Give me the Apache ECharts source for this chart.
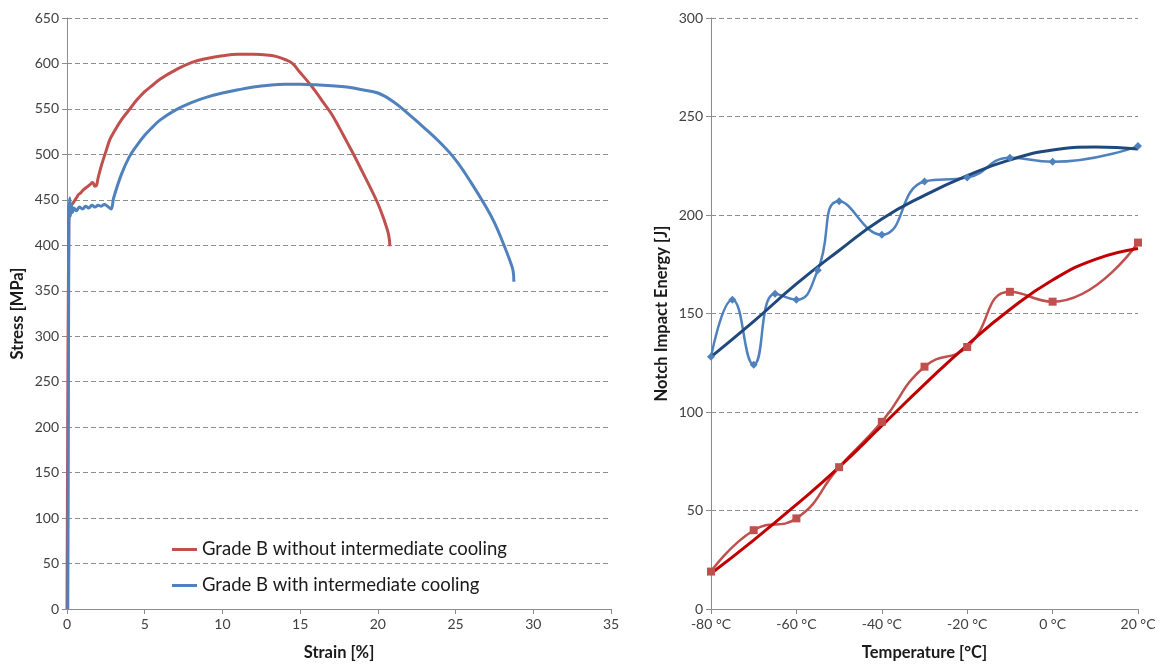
<!DOCTYPE html>
<html>
<head>
<meta charset="utf-8">
<script src="https://cdn.jsdelivr.net/npm/echarts@6/dist/echarts.min.js"></script>
<style>
html,body{margin:0;padding:0;background:#fff;}
#c{width:1161px;height:666px;}
</style>
</head>
<body>
<div id="c"></div>
<script>
// ---- Left chart: stress-strain ----
const strainRed = [0, 0.12, 0.2, 0.3, 0.45, 0.6, 0.75, 0.9, 1.05, 1.2, 1.35, 1.5, 1.62, 1.7, 1.8, 1.9, 2.0, 2.2, 2.5, 2.75, 3.0, 3.5, 4.0, 4.5, 5.0, 5.5, 6.0, 7.0, 8.0, 9.0, 10.0, 11.0, 12.0, 13.0, 13.5, 14.0, 14.5, 15.0, 15.5, 16.0, 16.5, 17.0, 17.5, 18.0, 18.5, 19.0, 19.5, 20.0, 20.4, 20.66, 20.75, 20.77];
const stressRed = [0, 440, 446, 445, 448, 452, 456, 458, 461, 463, 465, 467, 469, 468, 465, 466, 474, 487, 503, 516, 524, 538, 549, 560, 569, 576, 583, 593, 601, 605.5, 608.5, 610, 610, 609, 607.5, 604.5, 600, 590, 580, 569, 557, 545, 530, 514, 498, 481, 464, 446, 428, 414, 405, 399];
const strainBlue = [0.05, 0.08, 0.12, 0.17, 0.22, 0.28, 0.35, 0.45, 0.6, 0.8, 1.0, 1.2, 1.4, 1.6, 1.8, 2.0, 2.2, 2.4, 2.6, 2.75, 2.85, 3.0, 3.5, 4.0, 4.5, 5.0, 5.5, 6.0, 7.0, 8.0, 9.0, 10.0, 11.0, 12.0, 13.0, 14.0, 15.0, 16.0, 17.0, 18.0, 19.0, 20.0, 21.0, 22.0, 23.0, 24.0, 25.0, 26.0, 27.0, 27.5, 28.0, 28.5, 28.7, 28.75];
const stressBlue = [0, 150, 420, 452, 432, 445, 436, 441, 438, 442, 440, 443, 441, 444, 442, 444, 443, 445, 443, 441, 440, 452, 478, 497, 510, 521, 530, 538, 549, 557, 563, 567.5, 571, 574, 576, 577, 577, 576.5, 575.5, 574, 571, 567.5, 558, 544, 529, 513, 494, 469, 441, 425, 405, 383, 372, 360];
const nameRed = 'Grade B without intermediate cooling';
const nameBlue = 'Grade B with intermediate cooling';

// ---- Right chart: notch impact energy ----
const tempsBlue = [-80, -75, -70, -65, -60, -55, -50, -40, -30, -20, -10, 0, 20];
const energyBlue = [128, 157, 124, 160, 157, 172, 207, 190, 217, 219, 229, 227, 235];
const tempsRed = [-80, -70, -60, -50, -40, -30, -20, -10, 0, 20];
const energyRed = [19, 40, 46, 72, 95, 123, 133, 161, 156, 186];
const trendTemps = [-80, -70, -60, -50, -40, -30, -20, -10, 0, 10, 20];
const trendBlue = [128, 146, 165, 182, 198, 210, 220, 228, 233, 234.5, 233.5];
const trendRed = [18, 35, 53, 72, 93, 114, 134, 152, 167, 177.5, 183];

const zip = (a, b) => a.map((v, i) => [v, b[i]]);
const FONT = 'Lato, "Open Sans", sans-serif';
const axisLineStyle = { lineStyle: { color: '#8c8c8c', width: 1 } };
const tickStyle = { show: true, inside: false, length: 5, lineStyle: { color: '#8c8c8c' } };
const labelStyle = { color: '#404040', fontSize: 14, fontFamily: FONT };
const split = { show: true, lineStyle: { type: [5, 3], color: '#8c8c8c', width: 1 } };
const nameStyle = { color: '#1a1a1a', fontSize: 16.5, fontWeight: 'bold', fontFamily: FONT };

const chart = echarts.init(document.getElementById('c'), null, { renderer: 'canvas' });
chart.setOption({
  backgroundColor: '#ffffff',
  animation: false,
  grid: [
    { left: 67, right: 550, top: 18, bottom: 50, containLabel: false },
    { left: 711, right: 23, top: 18, bottom: 50, containLabel: false }
  ],
  legend: {
    data: [nameRed, nameBlue],
    orient: 'vertical',
    left: 172, top: 540, padding: 0,
    itemWidth: 25, itemHeight: 3, itemGap: 17,
    icon: 'rect',
    textStyle: { color: '#1a1a1a', fontSize: 18.5, fontFamily: FONT }
  },
  xAxis: [
    { gridIndex: 0, type: 'value', min: 0, max: 35, interval: 5,
      axisLine: axisLineStyle, axisTick: tickStyle, axisLabel: labelStyle,
      splitLine: { show: false },
      name: 'Strain [%]', nameLocation: 'middle', nameGap: 35, nameTextStyle: nameStyle },
    { gridIndex: 1, type: 'value', min: -80, max: 20, interval: 20,
      axisLine: axisLineStyle, axisTick: tickStyle,
      axisLabel: Object.assign({}, labelStyle, { formatter: '{value} °C' }),
      splitLine: { show: false },
      name: 'Temperature [°C]', nameLocation: 'middle', nameGap: 35, nameTextStyle: nameStyle }
  ],
  yAxis: [
    { gridIndex: 0, type: 'value', min: 0, max: 650, interval: 50,
      axisLine: { show: true, onZero: false, lineStyle: { color: '#8c8c8c', width: 1 } }, axisTick: tickStyle, axisLabel: labelStyle,
      splitLine: split,
      name: 'Stress [MPa]', nameLocation: 'middle', nameGap: 41, nameTextStyle: nameStyle },
    { gridIndex: 1, type: 'value', min: 0, max: 300, interval: 50,
      axisLine: { show: true, onZero: false, lineStyle: { color: '#8c8c8c', width: 1 } }, axisTick: tickStyle, axisLabel: labelStyle,
      splitLine: split,
      name: 'Notch Impact Energy [J]', nameLocation: 'middle', nameGap: 41, nameTextStyle: nameStyle }
  ],
  series: [
    { name: nameRed, type: 'line', xAxisIndex: 0, yAxisIndex: 0, data: zip(strainRed, stressRed),
      showSymbol: false, smooth: 0.4, color: '#C0504D', lineStyle: { width: 3, color: '#C0504D' } },
    { name: nameBlue, type: 'line', xAxisIndex: 0, yAxisIndex: 0, data: zip(strainBlue, stressBlue),
      showSymbol: false, smooth: 0.4, color: '#4F81BD', lineStyle: { width: 3, color: '#4F81BD' } },
    { name: 'blueData', type: 'line', xAxisIndex: 1, yAxisIndex: 1, data: zip(tempsBlue, energyBlue),
      smooth: 0.5, symbol: 'diamond', symbolSize: 8, color: '#4F81BD',
      itemStyle: { color: '#4F81BD' }, lineStyle: { width: 2.5, color: '#4F81BD' } },
    { name: 'redData', type: 'line', xAxisIndex: 1, yAxisIndex: 1, data: zip(tempsRed, energyRed),
      smooth: 0.5, symbol: 'rect', symbolSize: 8, color: '#C0504D',
      itemStyle: { color: '#C0504D' }, lineStyle: { width: 2.5, color: '#C0504D' } },
    { name: 'blueTrend', type: 'line', xAxisIndex: 1, yAxisIndex: 1, data: zip(trendTemps, trendBlue),
      smooth: 0.5, showSymbol: false, lineStyle: { width: 3, color: '#1F497D' }, color: '#1F497D' },
    { name: 'redTrend', type: 'line', xAxisIndex: 1, yAxisIndex: 1, data: zip(trendTemps, trendRed),
      smooth: 0.5, showSymbol: false, lineStyle: { width: 3, color: '#C00000' }, color: '#C00000' }
  ]
});
</script>
</body>
</html>
